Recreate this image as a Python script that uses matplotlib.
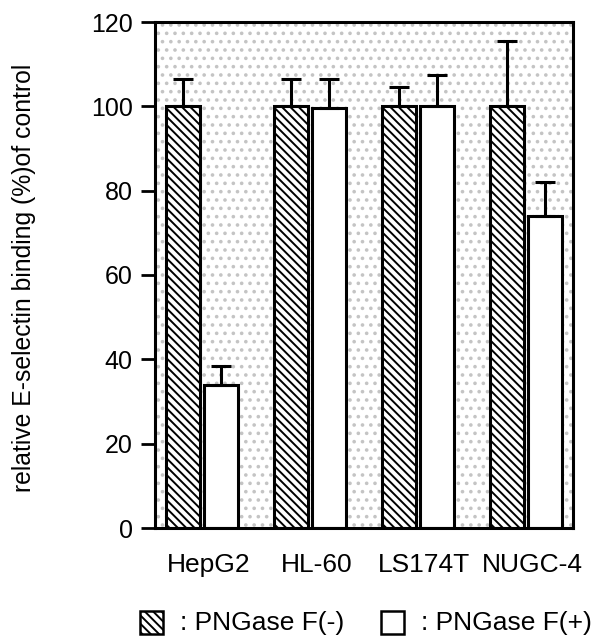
import numpy as np
import matplotlib
matplotlib.use("Agg")
import matplotlib.pyplot as plt
from matplotlib.patches import Rectangle

plt.rcParams['font.family'] = ['Liberation Sans', 'DejaVu Sans']
plt.rcParams['hatch.linewidth'] = 1.4

cells = ["HepG2", "HL-60", "LS174T", "NUGC-4"]
minus_vals = [100, 100, 100, 100]
minus_err = [6.5, 6.5, 4.5, 15.5]
plus_vals = [34, 99.5, 100, 74]
plus_err = [4.5, 7, 7.5, 8]
yticks = [0, 20, 40, 60, 80, 100, 120]

fig = plt.figure(figsize=(5.98, 6.42), dpi=100)
ax = fig.add_axes([155/598, 1-528/642, 418/598, 506/642])

# dotted background
bg = Rectangle((0, 0), 1, 1, transform=ax.transAxes, facecolor='white',
               edgecolor='#c4c4c4', hatch='..', linewidth=0, zorder=0)
ax.add_patch(bg)

x = np.arange(len(cells))
w = 0.315
off = 0.18
hat = '\\\\\\\\'
ax.bar(x - off, minus_vals, w, facecolor='white', edgecolor='black',
       hatch=hat, linewidth=2.2, zorder=2)
ax.bar(x + off, plus_vals, w, facecolor='white', edgecolor='black',
       linewidth=2.2, zorder=2)
ax.errorbar(x - off, minus_vals, yerr=[np.zeros(4), minus_err], fmt='none',
            ecolor='black', elinewidth=2.2, capsize=7.5, capthick=2.2, zorder=3)
ax.errorbar(x + off, plus_vals, yerr=[np.zeros(4), plus_err], fmt='none',
            ecolor='black', elinewidth=2.2, capsize=7.5, capthick=2.2, zorder=3)

ax.set_xlim(-0.435, 3.435)
ax.set_ylim(0, 120)
ax.set_yticks(yticks)
ax.set_xticks(x + 0.06)
ax.set_xticklabels(cells, fontsize=19)
ax.tick_params(axis='y', direction='out', length=10, width=2, labelsize=18, pad=6)
ax.tick_params(axis='x', length=0, pad=18)
for s in ax.spines.values():
    s.set_linewidth(2.2)
ax.set_ylabel("relative E-selectin binding (%)of control", fontsize=17.8)
ax.yaxis.set_label_coords(-0.285, 0.494)

# legend
lx1, lx2, ly = 140/598, 381/598, 1-623/642
fig.patches.append(Rectangle((lx1, ly - 11/642), 23/598, 23/642, transform=fig.transFigure,
                             facecolor='white', edgecolor='black', hatch=hat, linewidth=1.8))
fig.text(lx1 + 40/598, ly, ": PNGase F(-)", fontsize=19, va='center')
fig.patches.append(Rectangle((lx2, ly - 11/642), 23/598, 23/642, transform=fig.transFigure,
                             facecolor='white', edgecolor='black', linewidth=1.8))
fig.text(lx2 + 40/598, ly, ": PNGase F(+)", fontsize=19, va='center')

fig.savefig("out.png", dpi=100)
